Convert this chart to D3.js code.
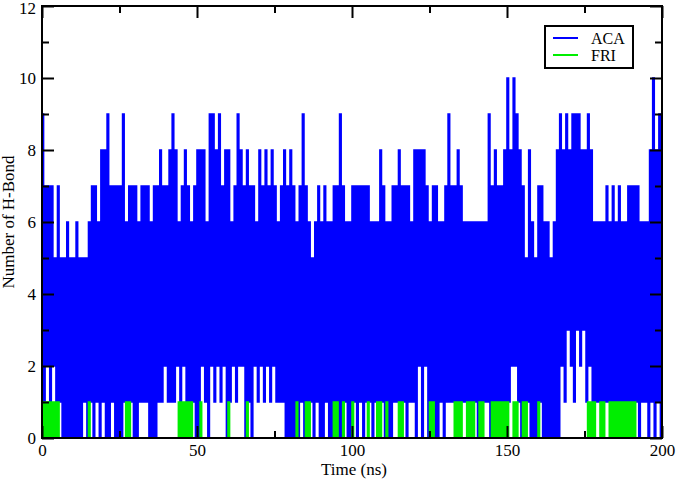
<!DOCTYPE html>
<html><head><meta charset="utf-8">
<script src="https://cdn.jsdelivr.net/npm/d3@7"></script>
<style>
body{margin:0;background:#fff}
svg{display:block}
text{font-family:"Liberation Serif","Times New Roman",serif;fill:#000}
</style>
</head><body>
<svg id="chart" width="677" height="480"></svg>
<script>
// Per-nanosecond envelope of the H-bond counts (index = time in ns, 0..200)
const acaHi = [
9,7,7,7,5,7,5,5,6,5,
5,6,5,5,5,6,7,7,6,8,
8,9,7,7,7,7,9,6,7,7,
7,6,7,7,7,6,7,7,8,7,
7,8,9,8,6,7,8,7,6,7,
8,8,8,6,9,9,8,9,7,8,
8,6,7,9,8,7,8,7,7,6,
8,7,8,7,8,7,6,7,8,7,
8,7,6,7,9,7,6,5,6,7,
6,7,6,6,7,7,9,7,6,6,
7,7,7,7,7,7,6,6,6,8,
7,6,6,7,7,8,7,7,7,6,
8,8,8,8,7,6,7,7,6,6,
7,9,7,7,8,7,6,6,6,6,
6,6,6,6,9,7,8,7,7,8,
10,8,10,9,8,7,5,8,6,5,
7,7,6,6,5,6,8,9,8,9,
8,9,9,9,8,8,9,8,6,6,
6,6,7,6,7,6,7,6,6,7,
7,7,7,6,6,6,8,10,8,9,
9];
const acaLo = [
1,2,1,2,1,1,0,0,0,0,
0,0,0,1,0,1,0,1,0,1,
0,0,1,0,0,0,1,1,1,0,
0,1,1,1,0,0,0,1,1,2,
1,1,1,2,1,2,1,1,1,0,
0,2,1,0,2,1,2,1,2,0,
1,2,1,2,2,0,1,0,2,1,
2,1,2,1,2,1,1,1,0,0,
0,0,0,1,0,1,1,0,1,0,
0,1,0,0,1,0,0,1,0,0,
1,0,1,0,1,1,0,1,0,1,
0,0,0,1,1,1,1,0,1,1,
0,2,0,2,0,1,0,0,1,0,
1,1,1,1,1,1,1,1,1,1,
0,1,1,1,0,1,1,1,1,0,
1,2,2,1,0,1,1,0,0,0,
1,0,0,0,0,0,0,2,1,3,
2,1,3,2,3,1,2,1,1,1,
1,1,1,1,1,1,1,1,1,1,
1,1,0,1,1,0,1,0,1,0,
1];
const friHi = [
1,1,1,1,1,1,0,0,0,0,
0,0,0,0,0,1,0,0,0,0,
0,0,0,0,0,0,0,1,1,0,
0,0,0,0,0,0,0,0,0,0,
0,0,0,0,1,1,1,1,1,0,
0,1,0,0,0,0,0,0,0,0,
1,0,0,0,0,0,1,0,0,0,
0,0,0,0,0,0,0,0,0,0,
0,0,1,0,0,1,1,0,0,0,
0,0,0,0,1,1,0,1,0,0,
1,0,0,0,0,1,0,0,1,1,
0,1,0,0,0,1,1,0,0,0,
0,0,0,0,0,1,1,0,0,0,
0,0,0,1,1,1,0,1,1,1,
0,1,1,0,0,1,1,1,1,1,
1,0,1,1,0,1,1,0,0,0,
1,0,0,0,0,0,0,0,0,0,
0,0,0,0,0,0,1,1,1,0,
1,1,0,1,1,1,1,1,1,1,
1,1,0,0,0,0,0,0,0,0,
0];
const seriesNames = ["ACA", "FRI"];
const seriesColors = ["#0000ff", "#00ee00"];
const xMajor = [0, 50, 100, 150, 200];
const xMinor = [25, 75, 125, 175];
const yMajor = [0, 2, 4, 6, 8, 10, 12];
const yMinor = [1, 3, 5, 7, 9, 11];
const xTitle = "Time (ns)";
const yTitle = "Number of H-Bond";

const svg = d3.select("#chart");
const L = 42, R = 662, T = 6, B = 438;
const x = d3.scaleLinear().domain([0, 200]).range([L, R]);
const y = d3.scaleLinear().domain([0, 12]).range([B, T]);

svg.append("defs").append("clipPath").attr("id", "clip")
  .append("rect").attr("x", L).attr("y", T).attr("width", R - L).attr("height", B - T);

function toPoints(hi, lo) {
  const pts = [];
  for (let i = 0; i < hi.length; i++) {
    pts.push([i, hi[i]]);
    if (i < hi.length - 1) pts.push([i + 0.5, lo ? lo[i] : 0]);
  }
  return pts;
}
const line = d3.line().x(d => x(d[0])).y(d => y(d[1])).curve(d3.curveStepAfter);
const plot = svg.append("g").attr("clip-path", "url(#clip)");
plot.append("path").datum(toPoints(acaHi, acaLo))
  .attr("d", line).attr("fill", "none").attr("stroke", seriesColors[0]).attr("stroke-width", 1.6);
plot.append("path").datum(toPoints(friHi, null))
  .attr("d", line).attr("fill", "none").attr("stroke", seriesColors[1]).attr("stroke-width", 1.6);

// frame
svg.append("rect").attr("x", L).attr("y", T).attr("width", R - L).attr("height", B - T)
  .attr("fill", "none").attr("stroke", "#000").attr("stroke-width", 2);

function styleAxis(g, showLabels) {
  g.select(".domain").remove();
  g.selectAll(".tick line").attr("stroke", "#000").attr("stroke-width", 2);
  g.selectAll(".tick text").attr("font-size", 17).attr("fill", "#000")
    .attr("font-family", '"Liberation Serif","Times New Roman",serif');
  if (!showLabels) g.selectAll(".tick text").remove();
}
const fs = 17;
styleAxis(svg.append("g").attr("transform", `translate(0,${B})`)
  .call(d3.axisBottom(x).tickValues(xMajor).tickSize(-12).tickPadding(6).tickFormat(d3.format("d"))), true);
styleAxis(svg.append("g").attr("transform", `translate(0,${B})`)
  .call(d3.axisBottom(x).tickValues(xMinor).tickSize(-7).tickFormat("")), false);
styleAxis(svg.append("g").attr("transform", `translate(0,${T})`)
  .call(d3.axisTop(x).tickValues(xMajor).tickSize(-12).tickFormat("")), false);
styleAxis(svg.append("g").attr("transform", `translate(0,${T})`)
  .call(d3.axisTop(x).tickValues(xMinor).tickSize(-7).tickFormat("")), false);
const yAx = svg.append("g").attr("transform", `translate(${L},0)`)
  .call(d3.axisLeft(y).tickValues(yMajor).tickSize(-12).tickPadding(6).tickFormat(d3.format("d")));
styleAxis(yAx, true);
yAx.selectAll(".tick text").filter(d => d === 12).attr("dy", "0.45em");
styleAxis(svg.append("g").attr("transform", `translate(${L},0)`)
  .call(d3.axisLeft(y).tickValues(yMinor).tickSize(-7).tickFormat("")), false);
styleAxis(svg.append("g").attr("transform", `translate(${R},0)`)
  .call(d3.axisRight(y).tickValues(yMajor).tickSize(-12).tickFormat("")), false);
styleAxis(svg.append("g").attr("transform", `translate(${R},0)`)
  .call(d3.axisRight(y).tickValues(yMinor).tickSize(-7).tickFormat("")), false);

// titles
svg.append("text").attr("x", (L + R) / 2 + 2).attr("y", 475).attr("text-anchor", "middle")
  .attr("font-size", fs).text(xTitle);
svg.append("text").attr("transform", `translate(14,${(T + B) / 2}) rotate(-90)`)
  .attr("text-anchor", "middle").attr("font-size", fs).text(yTitle);

// legend
const lg = svg.append("g");
lg.append("rect").attr("x", 545).attr("y", 26).attr("width", 88).attr("height", 42)
  .attr("fill", "#fff").attr("stroke", "#000").attr("stroke-width", 2);
seriesNames.forEach((n, i) => {
  const yy = 38 + i * 17;
  lg.append("line").attr("x1", 553).attr("x2", 578).attr("y1", yy).attr("y2", yy)
    .attr("stroke", seriesColors[i]).attr("stroke-width", 2);
  lg.append("text").attr("x", 591).attr("y", yy + 5.5).attr("font-size", 16).text(n);
});
</script>
</body></html>
